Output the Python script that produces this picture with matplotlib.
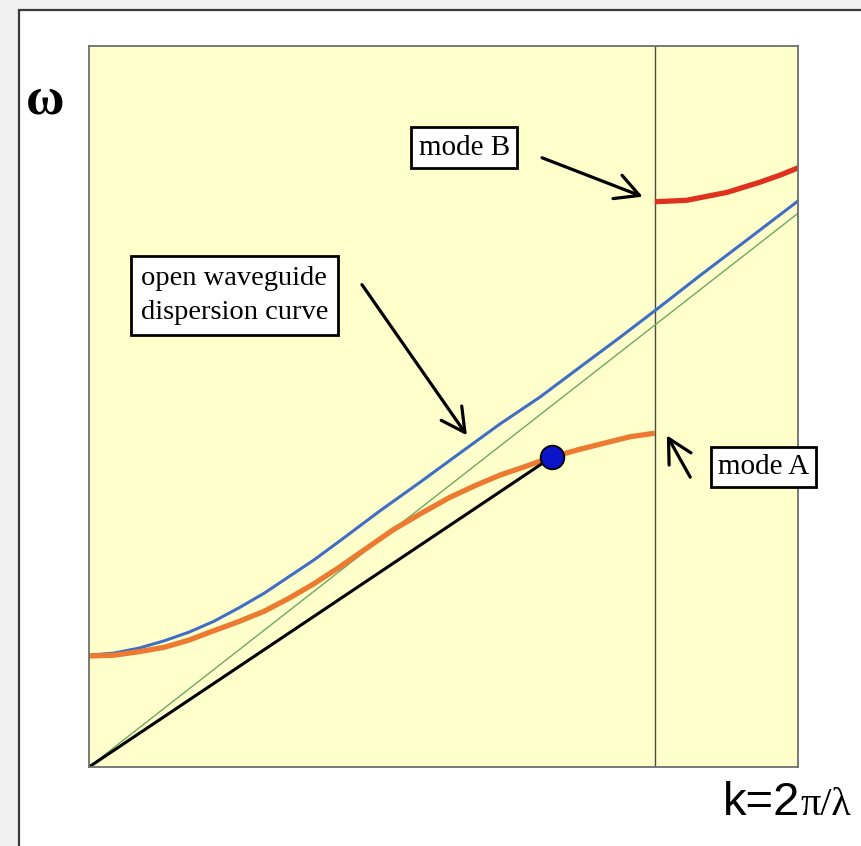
import matplotlib
matplotlib.use('Agg')
import matplotlib.pyplot as plt
from matplotlib.patches import Rectangle

# values (k and omega in axis units, 0..1)
k_light = [0.0, 1.0]
w_light = [0.0, 0.768]

k_open = [0.0, 0.035, 0.071, 0.106, 0.141, 0.176, 0.212, 0.247, 0.282, 0.317, 0.353,
		  0.410, 0.467, 0.524, 0.580, 0.636, 0.693, 0.749, 0.801, 0.861, 0.932, 1.0]
w_open = [0.155, 0.158, 0.165, 0.175, 0.187, 0.202, 0.221, 0.241, 0.264, 0.287, 0.313,
		  0.355, 0.395, 0.436, 0.476, 0.513, 0.555, 0.596, 0.635, 0.681, 0.734, 0.785]

k_modeA = [0.0, 0.035, 0.071, 0.106, 0.141, 0.176, 0.212, 0.247, 0.282, 0.317, 0.353, 0.388,
		   0.429, 0.467, 0.509, 0.544, 0.580, 0.616, 0.653, 0.690, 0.726, 0.763, 0.798]
w_modeA = [0.154, 0.155, 0.160, 0.166, 0.176, 0.189, 0.202, 0.216, 0.234, 0.254, 0.277, 0.301,
		   0.329, 0.351, 0.374, 0.390, 0.405, 0.417, 0.430, 0.440, 0.449, 0.458, 0.463]

k_modeB = [0.798, 0.843, 0.869, 0.900, 0.946, 0.975, 1.0]
w_modeB = [0.784, 0.786, 0.791, 0.797, 0.811, 0.821, 0.831]

k_point = 0.653
w_point = 0.430
k_edge = 0.798   # Brillouin zone edge

serif = 'Liberation Serif'

fig = plt.figure(figsize=(8.61, 8.46), dpi=100)
fig.patch.set_facecolor('#f0f0f0')
frame = Rectangle((19/861, -0.05), 1.2, 1 - 10/846 + 0.05, transform=fig.transFigure,
				  facecolor='white', edgecolor='#3a3a3a', linewidth=1.6, zorder=-10)
fig.patches.append(frame)

ax = fig.add_axes([89/861, 1 - 767/846, 709/861, 721/846])
ax.set_zorder(1)
ax.set_facecolor('#ffffcc')
ax.set_xlim(0, 1)
ax.set_ylim(0, 1)
ax.set_xticks([])
ax.set_yticks([])
for s in ax.spines.values():
	s.set_color('#6e6e6e')
	s.set_linewidth(1.3)

ax.axvline(k_edge, color='#4a4a40', linewidth=1.0)
ax.plot(k_light, w_light, color='#6fa860', linewidth=1.0)
ax.plot(k_open, w_open, color='#3f6fc4', linewidth=2.2)
ax.plot(k_modeA, w_modeA, color='#ec7a30', linewidth=3.8, solid_capstyle='butt', solid_joinstyle='round')
ax.plot(k_modeB, w_modeB, color='#e0301e', linewidth=3.8, solid_capstyle='butt', solid_joinstyle='round')
ax.plot([0, k_point], [0, w_point], color='black', linewidth=2.2)
ax.plot([k_point], [w_point], 'o', markersize=17, markerfacecolor='#0a14c8',
		markeredgecolor='black', markeredgewidth=1.3, zorder=5)

# labels with boxes
box = dict(boxstyle='square,pad=0.25', facecolor='white', edgecolor='black', linewidth=2)
ax.text(0.465, 0.859, 'mode B', family=serif, fontsize=21, va='center', ha='left', bbox=box, clip_on=False)
ax.text(0.073, 0.654, 'open waveguide\ndispersion curve', family=serif, fontsize=20.5,
		va='center', ha='left', bbox=dict(box, boxstyle='square,pad=0.35'), linespacing=1.45, clip_on=False)
ax.text(0.887, 0.416, 'mode A', family=serif, fontsize=21, va='center', ha='left', bbox=box, clip_on=False)

arrow = dict(arrowstyle='->,head_length=0.85,head_width=0.45', color='black', linewidth=2.3,
			 mutation_scale=20, shrinkA=0, shrinkB=0)
ax.annotate('', xy=(0.781, 0.791), xytext=(0.639, 0.845), arrowprops=arrow, annotation_clip=False)
ax.annotate('', xy=(0.533, 0.460), xytext=(0.385, 0.669), arrowprops=arrow, annotation_clip=False)
ax.annotate('', xy=(0.815, 0.460), xytext=(0.848, 0.402), arrowprops=arrow, annotation_clip=False)

# axis labels
fig.text(45/861, 1 - 100/846, '\u03c9', family=serif, fontweight='bold', fontsize=38, ha='center', va='center')
fig.text(800/861, 1 - 815/846, 'k=2', family='Liberation Sans', fontsize=34, ha='right', va='baseline')
fig.text(800/861, 1 - 815/846, '\u03c0/\u03bb', family=serif, fontsize=29, ha='left', va='baseline')

fig.savefig('out.png', dpi=100, facecolor=fig.get_facecolor())
plt.close(fig)
